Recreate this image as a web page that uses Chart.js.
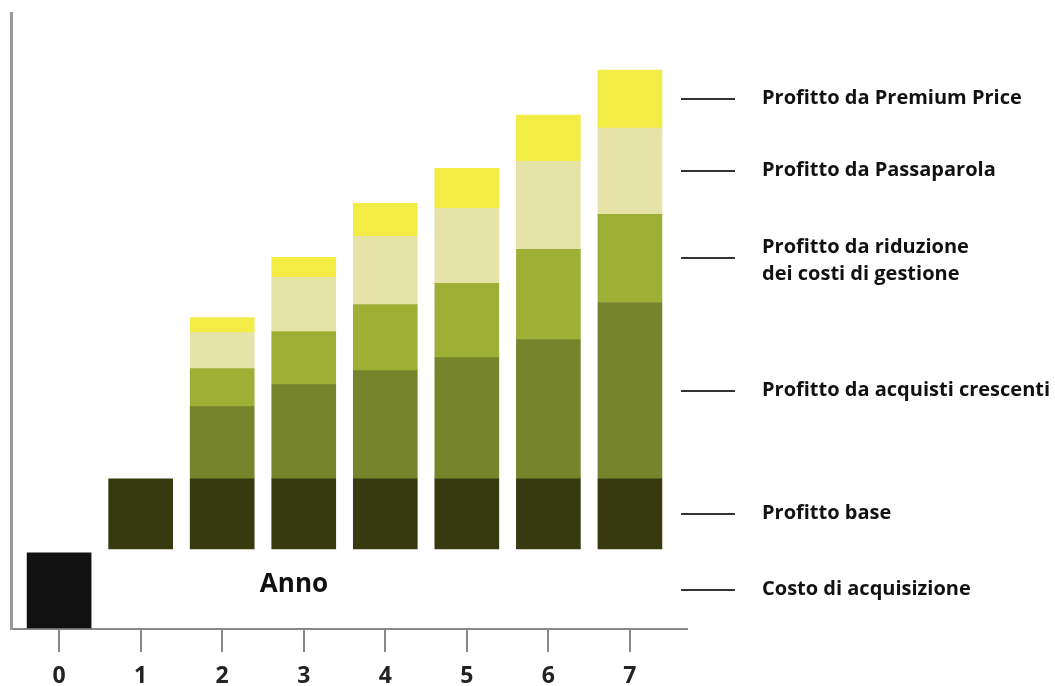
<!DOCTYPE html>
<html>
<head>
<meta charset="utf-8">
<script src="https://cdn.jsdelivr.net/npm/chart.js@4"></script>
<style>
    html, body { margin: 0; padding: 0; background: #fff; }
    #wrap { width: 1055px; height: 686px; }
</style>
</head>
<body>
<div id="wrap"><canvas id="graficoProfitti"></canvas></div>
<script>
// dati (unità arbitrarie)
const anni = [0, 1, 2, 3, 4, 5, 6, 7];
const costoAcquisizione = [[-79, -4], null, null, null, null, null, null, null];
const profittoBase = [null, 70, 70, 70, 70, 70, 70, 70];
const acquistiCrescenti = [null, null, 72, 94, 108, 121, 139, 176];
const riduzioneCosti = [null, null, 38, 53, 66, 74, 90, 88];
const passaparola = [null, null, 36, 54, 68, 75, 88, 86];
const premiumPrice = [null, null, 15, 20, 33, 40, 46, 58];

const etichette = [
    'Costo di acquisizione',
    'Profitto base',
    'Profitto da acquisti crescenti',
    'Profitto da riduzione\ndei costi di gestione',
    'Profitto da Passaparola',
    'Profitto da Premium Price'
];
const colori = ['#111111', '#363a0e', '#76852c', '#9daf35', '#e6e3a8', '#f2ec45'];
const serie = [costoAcquisizione, profittoBase, acquistiCrescenti, riduzioneCosti, passaparola, premiumPrice];

const FONT = '"Open Sans", "DejaVu Sans", sans-serif';

// legenda a destra con le lineette, allineata al centro dell'ultimo segmento
const legendaLinee = {
    id: 'legendaLinee',
    afterDatasetsDraw(chart) {
        const c = chart.ctx;
        c.save();
        c.strokeStyle = '#333';
        c.lineWidth = 2;
        c.fillStyle = '#111';
        c.font = 'bold 20px ' + FONT;
        c.textBaseline = 'middle';
        c.textAlign = 'left';
        chart.data.datasets.forEach((ds, i) => {
            const meta = chart.getDatasetMeta(i);
            const el = meta.data[meta.data.length - 1];
            const yc = Math.round((el.y + el.base) / 2);
            c.beginPath();
            c.moveTo(681, yc);
            c.lineTo(735, yc);
            c.stroke();
            const righe = ds.label.split('\n');
            if (righe.length === 1) {
                c.fillText(righe[0], 762, yc - 1);
            } else {
                c.fillText(righe[0], 762, yc - 11);
                c.fillText(righe[1], 762, yc + 16);
            }
        });
        // scritta "Anno"
        const xs = chart.scales.x, ys = chart.scales.y;
        c.font = 'bold 26px ' + FONT;
        c.textAlign = 'center';
        c.fillText('Anno', xs.getPixelForValue(2.88), ys.getPixelForValue(-36));
        c.restore();
    }
};

const ctx = document.getElementById('graficoProfitti').getContext('2d');

new Chart(ctx, {
    type: 'bar',
    data: {
        datasets: serie.map((valori, i) => ({
            label: etichette[i],
            data: anni.map((a, j) => ({ x: a, y: valori[j] })).filter(p => p.y !== null),
            backgroundColor: colori[i],
            borderWidth: 0,
            barThickness: 64
        }))
    },
    options: {
        responsive: true,
        maintainAspectRatio: false,
        animation: false,
        layout: {
            padding: { left: 11, top: 13, right: 368, bottom: -15 }
        },
        plugins: {
            legend: { display: false },
            tooltip: { enabled: false }
        },
        scales: {
            x: {
                type: 'linear',
                stacked: true,
                min: -0.59,
                max: 7.7,
                offset: false,
                afterBuildTicks: function (scale) {
                    scale.ticks = anni.map(v => ({ value: v }));
                },
                ticks: {
                    stepSize: 1,
                    includeBounds: false,
                    padding: 13,
                    color: '#222',
                    font: { family: FONT, size: 23, weight: 'bold', lineHeight: 1 }
                },
                grid: {
                    offset: false,
                    drawOnChartArea: false,
                    drawTicks: true,
                    tickLength: 23,
                    color: '#888',
                    lineWidth: 2
                },
                border: { color: '#888', width: 2 }
            },
            y: {
                stacked: true,
                min: -80,
                max: 535,
                ticks: { display: false },
                grid: { display: false, drawTicks: false },
                border: { color: '#999', width: 3 }
            }
        }
    },
    plugins: [legendaLinee]
});
</script>
</body>
</html>
